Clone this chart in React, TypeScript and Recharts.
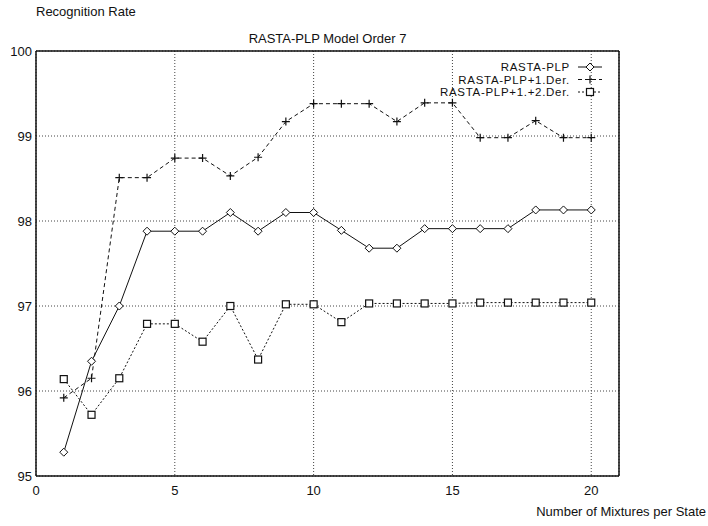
import { LineChart, Line, XAxis, YAxis, CartesianGrid, ReferenceLine } from "recharts";

const mixtures = [1, 2, 3, 4, 5, 6, 7, 8, 9, 10, 11, 12, 13, 14, 15, 16, 17, 18, 19, 20];
const rastaPlp = [95.28, 96.35, 97.0, 97.88, 97.88, 97.88, 98.1, 97.88, 98.1, 98.1, 97.89, 97.68, 97.68, 97.91, 97.91, 97.91, 97.91, 98.13, 98.13, 98.13];
const rastaPlpDer1 = [95.92, 96.15, 98.51, 98.51, 98.74, 98.74, 98.53, 98.75, 99.17, 99.38, 99.38, 99.38, 99.17, 99.39, 99.39, 98.98, 98.98, 99.18, 98.98, 98.98];
const rastaPlpDer12 = [96.14, 95.72, 96.15, 96.79, 96.79, 96.58, 97.0, 96.37, 97.02, 97.02, 96.81, 97.03, 97.03, 97.03, 97.03, 97.04, 97.04, 97.04, 97.04, 97.04];
const seriesNames = ["RASTA-PLP", "RASTA-PLP+1.Der.", "RASTA-PLP+1.+2.Der."];
const xTicks = [0, 5, 10, 15, 20];
const yTicks = [95, 96, 97, 98, 99, 100];

const data = mixtures.map((m, i) => ({
  m,
  plp: rastaPlp[i],
  d1: rastaPlpDer1[i],
  d2: rastaPlpDer12[i],
}));

const font = "'Liberation Sans', Arial, sans-serif";
const ink = "#111";

const Diamond = (p: any) => {
  const { cx, cy } = p;
  return (
    <path
      key={`dia-${p.index}`}
      d={`M${cx},${cy - 4}L${cx + 4},${cy}L${cx},${cy + 4}L${cx - 4},${cy}Z`}
      fill="#fff"
      stroke={ink}
      strokeWidth={1}
    />
  );
};

const Plus = (p: any) => {
  const { cx, cy } = p;
  return (
    <path
      key={`plus-${p.index}`}
      d={`M${cx - 4},${cy}L${cx + 4},${cy}M${cx},${cy - 4}L${cx},${cy + 4}`}
      stroke={ink}
      strokeWidth={1.2}
      fill="none"
    />
  );
};

const Square = (p: any) => {
  const { cx, cy } = p;
  return (
    <rect
      key={`sq-${p.index}`}
      x={cx - 3.5}
      y={cy - 3.5}
      width={7}
      height={7}
      fill="#fff"
      stroke={ink}
      strokeWidth={1.2}
    />
  );
};

const styles = [
  { dash: undefined as string | undefined, Marker: Diamond },
  { dash: "4 3", Marker: Plus },
  { dash: "2 2", Marker: Square },
];

const App = () => {
  return (
    <div style={{ position: "absolute", left: 0, top: 0, width: 708, height: 526, background: "#fff", fontFamily: font }}>
      <LineChart
        width={708}
        height={526}
        data={data}
        margin={{ top: 51, right: 89, bottom: 0, left: 0 }}
      >
        <CartesianGrid stroke="#444" strokeDasharray="1 2" />
        <XAxis
          dataKey="m"
          type="number"
          domain={[0, 21]}
          ticks={xTicks}
          height={50}
          tickSize={0}
          tickMargin={10}
          axisLine={{ stroke: ink, strokeWidth: 1.5 }}
          tick={{ fill: ink, fontSize: 13, fontFamily: font }}
        />
        <YAxis
          type="number"
          domain={[95, 100]}
          ticks={yTicks}
          width={36}
          tickSize={0}
          tickMargin={4}
          axisLine={{ stroke: ink, strokeWidth: 1.5 }}
          tick={{ fill: ink, fontSize: 13, fontFamily: font }}
        />
        <ReferenceLine y={100} stroke={ink} strokeWidth={1.5} />
        <ReferenceLine x={21} stroke={ink} strokeWidth={1.5} />
        {["plp", "d1", "d2"].map((k, i) => (
          <Line
            key={k}
            dataKey={k}
            name={seriesNames[i]}
            stroke={ink}
            strokeWidth={1}
            strokeDasharray={styles[i].dash}
            dot={styles[i].Marker}
            activeDot={false}
            isAnimationActive={false}
          />
        ))}
      </LineChart>
      <div style={{ position: "absolute", left: 36, top: 4, fontSize: 13, color: ink }}>Recognition Rate</div>
      <div style={{ position: "absolute", left: 36, width: 583, top: 31, fontSize: 13, color: ink, textAlign: "center" }}>
        RASTA-PLP Model Order 7
      </div>
      <div style={{ position: "absolute", right: 2, top: 504, fontSize: 13, color: ink }}>Number of Mixtures per State</div>
      <svg style={{ position: "absolute", left: 0, top: 0 }} width={708} height={526}>
        {seriesNames.map((name, i) => {
          const y = 67 + i * 12.5;
          const M = styles[i].Marker;
          return (
            <g key={name}>
              <text
                x={570}
                y={y + 4}
                textAnchor="end"
                fontSize={11.5}
                letterSpacing={0.7}
                fontFamily={font}
                fill={ink}
              >
                {name}
              </text>
              <line x1={578} x2={602} y1={y} y2={y} stroke={ink} strokeDasharray={styles[i].dash} />
              <M cx={590} cy={y} index={i} />
            </g>
          );
        })}
      </svg>
    </div>
  );
};

export default App;
